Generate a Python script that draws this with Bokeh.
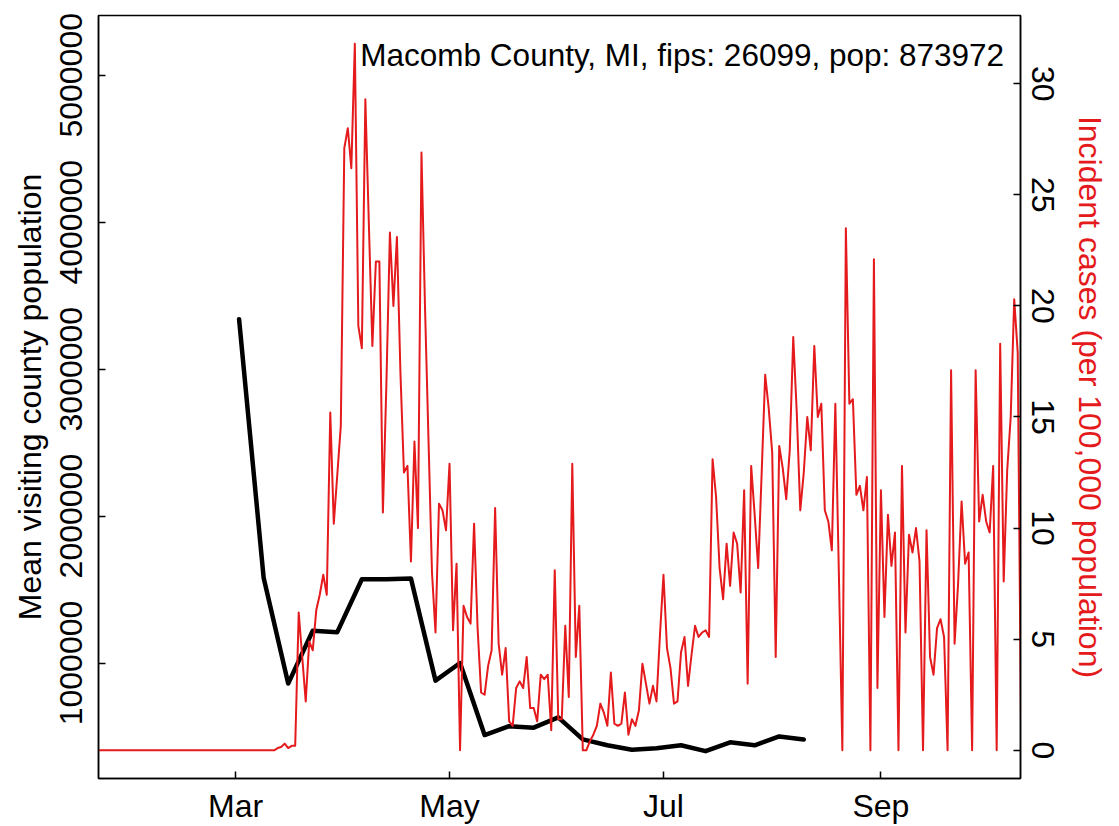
import datetime as dt
from bokeh.plotting import figure
from bokeh.models import (Range1d, LinearAxis, FixedTicker, Label, ColumnDataSource,
                          NumeralTickFormatter, DatetimeTickFormatter)
from bokeh.embed import file_html
from bokeh.resources import INLINE

FONT = "Liberation Sans"
RED = "#E41A1C"

# ---------------- data ----------------
title_text = "Macomb County, MI, fips: 26099, pop: 873972"
left_title = "Mean visiting county population"
right_title = "Incident cases (per 100,000 population)"

# daily incident cases per 100,000, starting 2020-01-22
case_start = dt.date(2020, 1, 22)
incident_cases = [
    0.0, 0.0, 0.0, 0.0, 0.0, 0.0, 0.0, 0.0, 0.0, 0.0,
    0.0, 0.0, 0.0, 0.0, 0.0, 0.0, 0.0, 0.0, 0.0, 0.0,
    0.0, 0.0, 0.0, 0.0, 0.0, 0.0, 0.0, 0.0, 0.0, 0.0,
    0.0, 0.0, 0.0, 0.0, 0.0, 0.0, 0.0, 0.0, 0.0, 0.0,
    0.0, 0.0, 0.0, 0.0, 0.0, 0.0, 0.0, 0.0, 0.0, 0.0,
    0.0, 0.1, 0.15, 0.3, 0.1, 0.2, 0.2,
    6.2, 4.2, 2.2, 4.9, 4.5, 6.3, 7.0, 7.9, 7.0, 15.2,
    10.2, 12.4, 14.6, 27.1, 28.0, 26.2, 31.8, 19.1, 18.1, 29.3,
    23.7, 18.2, 22.0, 22.0, 10.7, 16.5, 23.3, 20.0, 23.1, 17.0,
    12.5, 12.8, 8.5, 13.9, 10.0, 26.9, 20.0, 14.0, 8.0, 5.3,
    11.1, 10.8, 9.9, 12.9, 5.4, 8.4, 0.0, 6.5, 6.0, 5.7,
    10.2, 5.5, 2.6, 2.5, 3.8, 4.5, 10.9, 4.8, 3.4, 4.6,
    1.3, 1.1, 2.8, 3.1, 2.8, 4.2, 1.9, 1.9, 1.3, 3.4,
    3.2, 3.4, 0.9, 8.1, 1.4, 1.4, 5.6, 2.4, 12.9, 4.2,
    6.5, 0.0, 0.0, 0.4, 0.7, 1.1, 2.1, 1.7, 1.1, 3.5,
    1.2, 1.1, 1.2, 2.6, 0.7, 1.4, 1.1, 1.8, 3.9, 3.0,
    2.1, 2.9, 2.2, 5.2, 7.9, 4.6, 3.7, 2.1, 2.2, 4.4,
    5.1, 2.9, 4.3, 5.6, 5.1, 5.3, 5.4, 5.1, 13.1, 11.4,
    8.2, 6.8, 9.3, 7.4, 9.8, 9.3, 7.1, 11.7, 3.0, 12.8,
    10.6, 8.2, 12.5, 16.9, 15.4, 13.4, 4.2, 13.7, 12.7, 11.3,
    13.5, 18.6, 15.2, 10.8, 12.5, 15.0, 13.5, 18.2, 15.0, 15.6,
    10.8, 10.3, 9.0, 15.6, 8.0, 0.0, 23.5, 15.6, 15.8, 11.5,
    11.9, 10.8, 12.3, 0.0, 22.1, 2.8, 11.7, 6.0, 10.6, 8.3,
    9.8, 0.0, 12.8, 5.3, 9.7, 8.9, 10.0, 8.5, 0.0, 9.9,
    4.2, 3.4, 5.5, 5.9, 5.1, 0.0, 17.1, 4.8, 7.5, 11.2,
    8.4, 8.9, 0.0, 17.1, 10.3, 11.5, 10.3, 9.8, 12.8, 0.0,
    18.3, 7.6, 12.6, 15.0, 20.3, 17.9, 0.0,
]

# weekly mean visiting county population, starting 2020-03-02
visit_start = dt.date(2020, 3, 2)
mean_visiting_pop = [
    3340000, 1580000, 860000, 1220000, 1210000, 1570000, 1570000, 1575000,
    880000, 1000000, 510000, 570000, 560000, 630000, 480000, 440000,
    410000, 420000, 440000, 400000, 460000, 440000, 500000, 480000,
]

month_ticks = [dt.datetime(2020, 3, 1), dt.datetime(2020, 5, 1),
               dt.datetime(2020, 7, 1), dt.datetime(2020, 9, 1)]
left_ticks = [1000000, 2000000, 3000000, 4000000, 5000000]
right_ticks = [0, 5, 10, 15, 20, 25, 30]

# ---------------- build ----------------
EPOCH = dt.datetime(1970, 1, 1)


def to_ms(d):
    return (d - EPOCH).total_seconds() * 1000.0


case_dates = [dt.datetime.combine(case_start, dt.time()) + dt.timedelta(days=i)
              for i in range(len(incident_cases))]
visit_dates = [dt.datetime.combine(visit_start, dt.time()) + dt.timedelta(days=7 * i)
               for i in range(len(mean_visiting_pop))]

case_src = ColumnDataSource(dict(date=case_dates, cases=incident_cases))
visit_src = ColumnDataSource(dict(date=visit_dates, pop=mean_visiting_pop))

x_start = dt.datetime(2020, 1, 21, 22)
x_end = dt.datetime(2020, 10, 10, 19)
cases_lo, cases_hi = -1.27, 33.07

p = figure(width=1119, height=826, x_axis_type="datetime",
           x_range=Range1d(x_start, x_end),
           y_range=Range1d(214000, 5407000),
           output_backend="svg", toolbar_location=None,
           min_border_left=98, min_border_right=99, min_border_top=15, min_border_bottom=45)
p.extra_y_ranges = {"cases": Range1d(cases_lo, cases_hi)}

p.xgrid.visible = False
p.ygrid.visible = False
p.outline_line_color = "black"
p.outline_line_width = 1.5
p.outline_line_alpha = 1.0
p.background_fill_color = "white"
p.border_fill_color = "white"

right = LinearAxis(y_range_name="cases")
p.add_layout(right, "right")

xax = p.xaxis[0]
lax = p.yaxis[0]

for ax in (xax, lax, right):
    ax.major_tick_in = 7
    ax.major_tick_out = 0
    ax.minor_tick_in = 0
    ax.minor_tick_out = 0
    ax.axis_line_color = "black"
    ax.axis_line_width = 1.5
    ax.major_tick_line_color = "black"
    ax.major_tick_line_width = 1.5
    ax.major_label_text_font = FONT
    ax.major_label_text_font_size = "32px"
    ax.major_label_text_color = "black"
    ax.axis_label_text_font = FONT
    ax.axis_label_text_font_size = "32px"
    ax.axis_label_text_font_style = "normal"

xax.ticker = FixedTicker(ticks=[to_ms(d) for d in month_ticks])
xax.formatter = DatetimeTickFormatter(days="%b", months="%b", years="%b")
xax.major_label_standoff = 9

lax.ticker = FixedTicker(ticks=left_ticks)
lax.formatter = NumeralTickFormatter(format="0")
lax.major_label_orientation = "vertical"
lax.major_label_standoff = 16
lax.axis_label = left_title
lax.axis_label_standoff = 10
lax.axis_label_text_color = "black"

right.ticker = FixedTicker(ticks=right_ticks)
right.formatter = NumeralTickFormatter(format="0")
right.major_label_orientation = "vertical"
right.major_label_standoff = 11
right.axis_label = right_title
right.axis_label_standoff = 15
right.axis_label_text_color = RED

p.line(x="date", y="pop", source=visit_src, line_color="black", line_width=4.5,
       line_join="round", line_cap="round")
p.line(x="date", y="cases", source=case_src, y_range_name="cases",
       line_color=RED, line_width=2, line_join="round")

p.add_layout(Label(x=to_ms(dt.datetime(2020, 10, 6, 3)), y=31.3, y_range_name="cases",
                   text=title_text, text_align="right", text_baseline="alphabetic",
                   text_font=FONT, text_font_size="31.5px", text_color="black"))

open("out.html", "w").write(file_html(p, INLINE))
